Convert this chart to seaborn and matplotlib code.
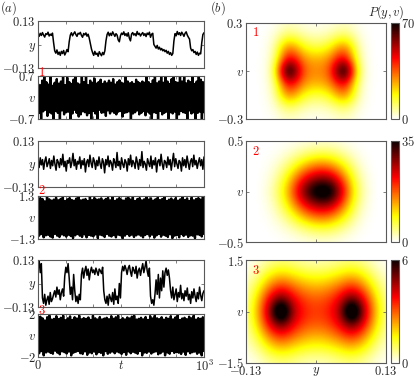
import numpy as np
import matplotlib
matplotlib.use("Agg")
import matplotlib.pyplot as plt
import seaborn as sns
from matplotlib.ticker import MultipleLocator

# ---------------- data ----------------
# time traces over t in [0, 1e3]; y in units of 1e-3, v in units of 1e-2
y1 = [58, 45, 62, 50, 66, 52, 41, 60, 55, 68, 47, 57, 50, 63, 10,
      -35, -48, -30, -55, -42, -60, -38, -50, -33, -58, -45, -28, -40, 15,
      52, 65, 48, 60, 70, 55, 45, 62, 58, 67, 50, 40, 61, 53, 64, 46, 57, 35,
      5, -25, -45, -60, -38, -55, -48, -65, -40, -52, -62, -44, -56, -35, 20,
      55, 68, 48, 62, 50, 70, 58, 45, 60, 52, 25, 15, 48, 63, 55, 70, 50, 60,
      46, 65, 35, 20, 58, 66, 52, 60, 48, 72, 55, 62, 47, 58, 66, 50, 60, 44,
      63, 55, 68, 40, 57, 62, 0,
      -10, -20, -5, -25, -15, -30, -22, -35, -28, -40, -32, -48, -38, -55, -45,
      -60, -50, 20, 60, 48, 72, 55, 65, 50, 68, 58, 45, 62, 70, 52, 40, 30,
      -20, -35, -28, -45, -38, -55, -42, -60, -48, -52, 10, 55, 65]
v1 = [45, -50, 40, -70, 55, -45, 75, -40, 50, -60, 42, -48, 70, -52, 38, -75,
      48, -44, 60, -50, 45, -70, 52, -42, 75, -55, 40, -48, 65, -46, 50, -75,
      44, -52, 58, -40, 75, -50, 46, -62, 42, -55, 70, -45, 50, -48, 75, -58,
      40, -50, 55, -75, 48, -44, 62, -52, 45, -70, 50, -40, 58, -50, 44, -48,
      52, -60, 46, -42, 55, -52, 48, -45, 60, -50, 42, -55, 50, -46, 56, -44,
      48, -62, 45, -50, 75, -48, 52, -45, 46, -75, 50, -52, 44, -48, 58, -42,
      50, -55, 46, -50, 52, -44, 48, -58, 75, -46, 50, -52, 44, -70, 56, -48,
      75, -50, 46, -75, 52, -44, 70, -55, 48, -50, 75, -46, 52, -75, 44, -48,
      60, -52, 75, -46, 50, -70, 48, -55, 75, -44, 52, -48, 70, -50, 46, -75,
      55, -42, 50, -52, 75, -48, 44, -70, 52, -50, 75, -46, 58, -75, 50, -48]
y2 = [10, -20, 35, -5, 25, -30, 15, 40, -15, 5, 30, -25, 20, -10, 45, 0,
      -35, 25, 10, -20, 30, -5, 55, -15, 15, -40, 20, 5, 35, -20, 10, 60,
      -10, 25, -30, 15, 0, 40, -25, 20, -5, 30, -45, 10, 25, -15, 50, 5,
      -20, 35, 15, -30, 20, -10, 40, 0, -25, 30, 10, -50, 25, -5, 45, -15,
      20, 5, -35, 30, 10, -20, 65, -10, 15, -30, 35, 0, -20, 25, 10, -40,
      30, -5, 50, -15, 20, 5, -25, 40, 10, -30, 25, -10, 70, -20, 15, 0,
      -35, 30, 5, -15, 45, -25, 20, -5, 35, -45, 15, 25, -10, 55, 0, -30,
      20, 10, -20, 40, -5, 25, -35, 15, 60, -15, 30, 0, -25, 20, 10, -40,
      35, -10, 25, -20, 45, 5, -30, 15, 30, -15, 50, -5, 20, -25, 10, 35,
      -10, 25, -30, 40]
v2 = [105, -110, 118, -100, 112, -120, 98, -108, 125, -105, 110, -115, 102,
      -122, 108, -100, 120, -110, 104, -118, 112, -102, 125, -108, 100, -116,
      110, -104, 118, -112, 106, -125, 102, -108, 115, -100, 122, -110, 104,
      -118, 108, -102, 112, -120, 100, -106, 125, -110, 105, -114, 118, -102,
      108, -125, 110, -104, 116, -108, 102, -118, 112, -100, 120, -110, 104,
      -115, 125, -106, 100, -120, 110, -104, 118, -108, 106, -125, 102, -110,
      115, -100, 120, -112, 108, -104, 125, -118, 100, -108, 112, -102, 118,
      -110, 104, -120, 110, -106, 125, -100, 108, -114, 116, -104, 102, -122,
      110, -108, 120, -100, 106, -116, 112, -104, 125, -110, 100, -118, 108,
      -102, 115, -125, 104, -110, 118, -106, 102, -120, 110, -100, 125, -112,
      106, -104, 116, -118, 100, -108, 120, -110, 104, -125, 112, -102, 118,
      -106, 108, -115, 125, -100]
y3 = [90, 130, 60, 110, -80, -110, -60, -120, -90, -70, -115, -50, -100, -85,
      -60, -40, -75, -20, -60, -35, -90, -50, -30, -70, 40, 90, 60, 110, 30,
      -60, -20, -90, 50, -40, -100, -70, -110, -60, -90,
      50, 85, 30, 70, 95, 45, 80, 20, 65, 90, 60, 75, 50, 85, 65, 45, 80, 70,
      55, 90, -40, -90, -110, -70, -120, -60, -80, -100, -50, -115, -30, -90,
      -70, -110, 0, -80, 60, 95, 70, 100, 80, 50, 85, 100, 65, 40, 90, 75, 55,
      95, 30, 70, 85, 45, 80, 110, 60, 90, 125, 70, 40, 85,
      -70, -110, -90, -120, -60, 20, -60, 50, -80, 30, -40, 70, -20,
      60, 85, 45, 75, 30, -40, -80, -20, -90, -60, -30, -100, -50, -75, -10,
      -85, -55, -95, -40, -70, -25, -90, -60, -110, -45, -80, -30, -70, -100,
      -50, -85, -20, -65, -95, -55, -40]
v3 = [150, -165, 175, -145, 160, -185, 140, -158, 170, -150, 185, -162, 148,
      -170, 155, -142, 180, -160, 152, -175, 165, -148, 185, -155, 142, -168,
      160, -150, 178, -185, 145, -160, 170, -152, 158, -145, 185, -165, 150,
      -172, 162, -148, 155, -180, 168, -158, 145, -165, 185, -150, 160, -175,
      148, -155, 172, -162, 150, -185, 158, -145, 165, -170, 152, -160, 180,
      -148, 155, -165, 170, -150, 185, -158, 145, -172, 162, -155, 150, -180,
      168, -148, 158, -165, 175, -152, 185, -160, 148, -170, 155, -145, 165,
      -185, 150, -158, 172, -162, 145, -150, 180, -168, 158, -155, 185, -148,
      160, -175, 152, -165, 170, -150, 148, -185, 165, -158, 155, -170, 180,
      -145, 150, -162, 168, -155, 185, -160, 145, -172, 158, -150, 165, -180,
      152, -148, 175, -165, 160, -155, 185, -150, 148, -170, 162, -158, 155,
      -185, 170, -145]

# P(y, v) sampled on coarse grids; rows go from top (max v) to bottom (min v)
p1 = [[0, 0, 0.5, 4, 1.5, 0.5, 1.5, 4, 0.5, 0, 0],
      [0, 0, 2, 12, 6, 4, 6, 12, 2, 0, 0],
      [0, 0, 3, 36, 17, 12, 17, 36, 3, 0, 0],
      [0, 0, 4, 54, 30, 25, 30, 54, 4, 0, 0],
      [0, 0, 5, 92, 34, 30, 34, 92, 5, 0, 0],
      [0, 0, 4, 54, 30, 25, 30, 54, 4, 0, 0],
      [0, 0, 3, 36, 17, 12, 17, 36, 3, 0, 0],
      [0, 0, 2, 12, 6, 4, 6, 12, 2, 0, 0],
      [0, 0, 0.5, 4, 1.5, 0.5, 1.5, 4, 0.5, 0, 0]]
p2 = [[0, 0, 0, 0.2, 0.6, 1, 1, 0.4, 0, 0, 0],
      [0, 0, 0.3, 1.5, 4, 6, 6, 3, 0.5, 0, 0],
      [0, 0, 1, 5, 12, 17, 16, 9, 1.5, 0, 0],
      [0, 0, 2, 10, 22, 29, 29, 16, 3, 0, 0],
      [0, 0, 3, 13, 29, 41, 41, 21, 4, 0, 0],
      [0, 0, 2, 10, 22, 29, 29, 16, 3, 0, 0],
      [0, 0, 1, 5, 12, 17, 16, 9, 1.5, 0, 0],
      [0, 0, 0.3, 1.5, 4, 6, 6, 3, 0.5, 0, 0],
      [0, 0, 0, 0.2, 0.6, 1, 1, 0.4, 0, 0, 0]]
p3 = [[0, 0.2, 0.5, 0.7, 0.6, 0.4, 0.35, 0.4, 0.6, 0.7, 0.5, 0.2, 0],
      [0.2, 0.6, 1.4, 1.8, 1.5, 1.2, 1.1, 1.2, 1.5, 1.8, 1.4, 0.6, 0.2],
      [0.4, 1.2, 2.6, 3.4, 2.8, 2.3, 2.1, 2.3, 2.8, 3.4, 2.6, 1.2, 0.4],
      [0.5, 1.9, 4.0, 5.4, 4.0, 3.2, 3.0, 3.2, 4.0, 5.4, 4.0, 1.9, 0.5],
      [0.6, 2.2, 4.8, 8.5, 4.6, 3.6, 3.3, 3.6, 4.6, 8.5, 4.8, 2.2, 0.6],
      [0.5, 1.9, 4.0, 5.4, 4.0, 3.2, 3.0, 3.2, 4.0, 5.4, 4.0, 1.9, 0.5],
      [0.4, 1.2, 2.6, 3.4, 2.8, 2.3, 2.1, 2.3, 2.8, 3.4, 2.6, 1.2, 0.4],
      [0.2, 0.6, 1.4, 1.8, 1.5, 1.2, 1.1, 1.2, 1.5, 1.8, 1.4, 0.6, 0.2],
      [0, 0.2, 0.5, 0.7, 0.6, 0.4, 0.35, 0.4, 0.6, 0.7, 0.5, 0.2, 0]]

v_lims = [0.7, 1.3, 2.0]          # left v panels
v_lims_p = [0.3, 0.5, 1.5]        # right P(y,v) panels
v_labels = ["0.7", "1.3", "2"]
v_labels_p = ["0.3", "0.5", "1.5"]
p_max = [70, 35, 6]
p_step = [10, 5, 1]
y_lim = 0.13
t_max = 1000

# ---------------- style ----------------
sns.set_style("ticks")
plt.rcParams["font.family"] = ["DejaVu Serif"]
plt.rcParams["mathtext.fontset"] = "cm"
plt.rcParams["axes.edgecolor"] = "0.35"
plt.rcParams["axes.linewidth"] = 0.8

W, H = 415, 384
fig = plt.figure(figsize=(W / 100, H / 100), dpi=100)


def px_axes(x0, y0, x1, y1):
    return fig.add_axes([x0 / W, 1 - y1 / H, (x1 - x0) / W, (y1 - y0) / H])


def style_ticks(ax):
    ax.tick_params(which="both", direction="in", top=True, right=True,
                   length=2.5, width=0.5, color="0.3", pad=1.5, labelsize=9)


left_boxes = [((21, 68), (76, 119)), ((141, 187), (196, 239)), ((260, 307), (314, 357))]
right_boxes = [(23, 119), (141, 242), (260, 363)]
ys = [y1, y2, y3]
vs = [v1, v2, v3]
ps = [p1, p2, p3]

# ---------------- (a): time traces ----------------
for i in range(3):
    (yt, yb), (vt, vb) = left_boxes[i]
    ax_y = px_axes(38, yt, 204, yb)
    ax_v = px_axes(38, vt, 204, vb)

    yy = np.array(ys[i]) / 1000
    vv = np.array(vs[i]) / 100
    sns.lineplot(x=np.linspace(0, t_max, len(yy)), y=yy, ax=ax_y,
                 color="k", lw=1.1)
    sns.lineplot(x=np.linspace(0, t_max, len(vv)), y=vv, ax=ax_v,
                 color="k", lw=1.7)

    ax_y.set_ylim(-y_lim, y_lim)
    ax_y.set_yticks([-y_lim, 0, y_lim], ["$-0.13$", "$y$", "$0.13$"])
    ax_v.set_ylim(-v_lims[i], v_lims[i])
    ax_v.set_yticks([-v_lims[i], 0, v_lims[i]],
                    ["$-%s$" % v_labels[i], "$v$", "$%s$" % v_labels[i]])
    for ax in (ax_y, ax_v):
        ax.set_xlim(0, t_max)
        ax.set_xticks(np.linspace(0, t_max, 7))
        ax.set_xticklabels([])
        ax.set_xlabel("")
        ax.set_ylabel("")
        style_ticks(ax)
    if i == 2:
        ax_v.set_xticklabels(["$0$", "", "", "$t$", "", "", "$10^3$"])

    fig.text(42 / W, 1 - (yb + 4) / H, "$%d$" % (i + 1), color="red",
             fontsize=9, ha="center", va="center")

# ---------------- (b): P(y, v) maps ----------------
for i in range(3):
    top, bot = right_boxes[i]
    ax = px_axes(246, top, 386, bot)
    cax = px_axes(391, top, 399, bot)

    grid = np.array(ps[i])
    nr, nc = grid.shape
    dy = 2 * y_lim / (nc - 1)
    dv = 2 * v_lims_p[i] / (nr - 1)
    im = ax.imshow(grid, cmap="hot_r", vmin=0, vmax=p_max[i], aspect="auto",
                   interpolation="bicubic", origin="upper",
                   extent=[-y_lim - dy / 2, y_lim + dy / 2,
                           -v_lims_p[i] - dv / 2, v_lims_p[i] + dv / 2])
    ax.set_xlim(-y_lim, y_lim)
    ax.set_ylim(-v_lims_p[i], v_lims_p[i])
    ax.set_xticks([-y_lim, 0, y_lim])
    if i == 2:
        ax.set_xticklabels(["$-0.13$", "$y$", "$0.13$"])
    else:
        ax.set_xticklabels([])
    ax.set_yticks([-v_lims_p[i], 0, v_lims_p[i]],
                  ["$-%s$" % v_labels_p[i], "$v$", "$%s$" % v_labels_p[i]])
    style_ticks(ax)
    ax.text(0.07, 0.9, "$%d$" % (i + 1), transform=ax.transAxes, color="red",
            fontsize=9, ha="center", va="center")

    cb = fig.colorbar(im, cax=cax)
    cb.set_ticks([0, p_max[i]], labels=["$0$", "$%d$" % p_max[i]])
    cb.ax.yaxis.set_minor_locator(MultipleLocator(p_step[i]))
    cb.ax.tick_params(which="both", direction="in", length=2, width=0.5,
                      color="0.3", pad=1.5, labelsize=9)
    cb.outline.set_linewidth(0.8)
    cb.outline.set_edgecolor("0.35")

fig.text(9 / W, 1 - 8 / H, "$(a)$", fontsize=9, ha="center", va="center")
fig.text(218 / W, 1 - 8 / H, "$(b)$", fontsize=9, ha="center", va="center")
fig.text(386 / W, 1 - 12 / H, "$P(y,v)$", fontsize=9, ha="center", va="center")

fig.savefig("out.png", dpi=100)
